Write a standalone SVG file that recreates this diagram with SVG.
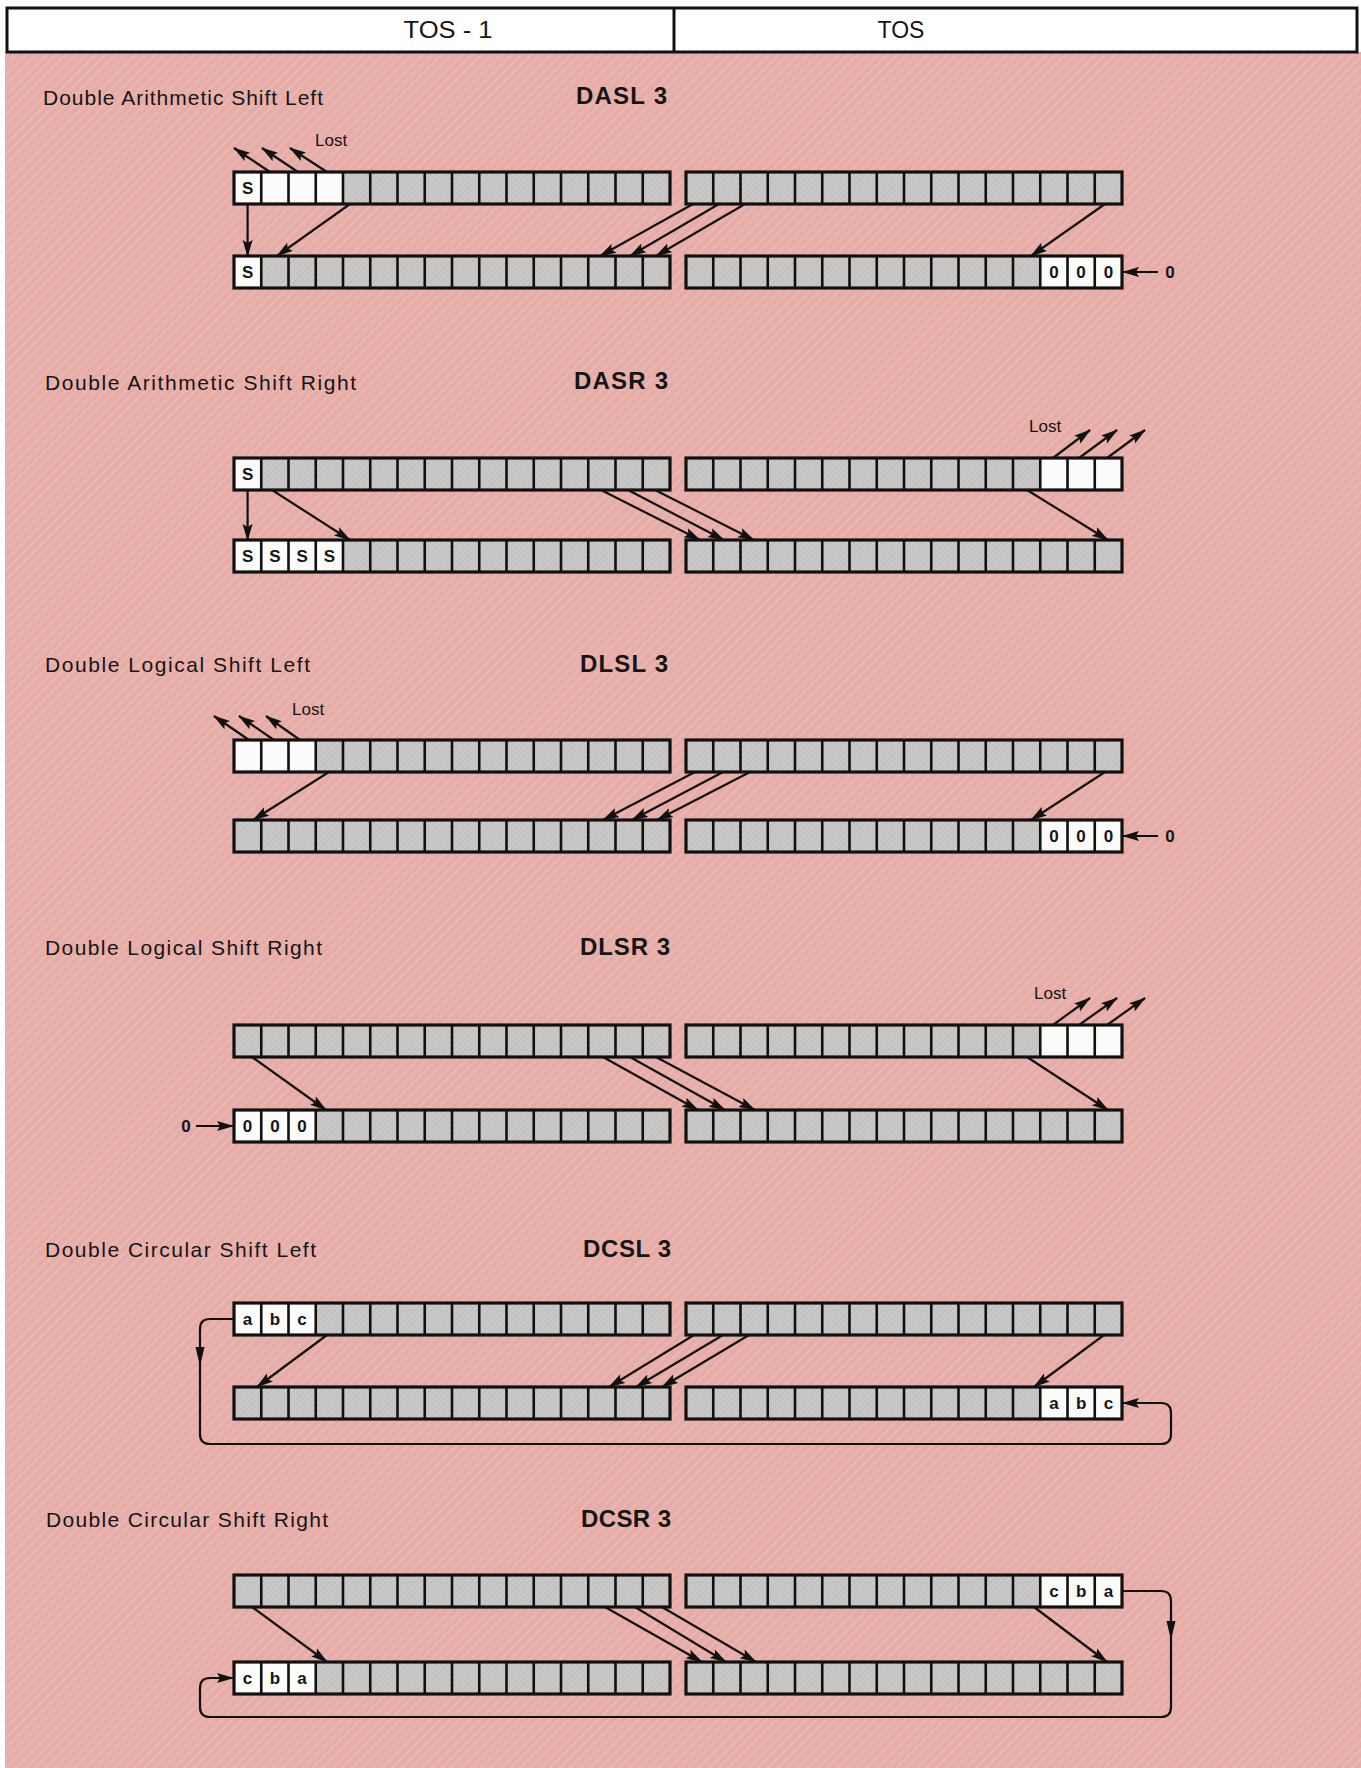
<svg xmlns="http://www.w3.org/2000/svg" xmlns:xlink="http://www.w3.org/1999/xlink" width="1361" height="1768" viewBox="0 0 1361 1768">
<style>
.ttl{font-family:"Liberation Sans",Arial,sans-serif;font-size:21px;fill:#151515}
.op{font-family:"Liberation Sans",Arial,sans-serif;font-size:24px;font-weight:bold;fill:#151515}
.hd{font-family:"Liberation Sans",Arial,sans-serif;font-size:23px;fill:#151515;text-anchor:middle}
.lost{font-family:"Liberation Sans",Arial,sans-serif;font-size:17px;fill:#151515}
.ct{font-family:"Liberation Sans",Arial,sans-serif;font-size:17px;font-weight:bold;fill:#151515;text-anchor:middle}
.zl{font-family:"Liberation Sans",Arial,sans-serif;font-size:17px;font-weight:bold;fill:#151515;text-anchor:middle}
.w{fill:#fbfbfa}
.ar{fill:none;stroke:#111;stroke-width:2.2;marker-end:url(#ah)}
</style>
<defs>
<pattern id="bgp" width="7" height="7" patternUnits="userSpaceOnUse" patternTransform="rotate(45)">
<rect width="7" height="7" fill="#e6aca7"/>
<rect width="2.5" height="7" fill="#eab4af"/>
</pattern>
<pattern id="grp" width="4" height="4" patternUnits="userSpaceOnUse" patternTransform="rotate(45)">
<rect width="4" height="4" fill="#cbc9c8"/>
<rect width="1.5" height="4" fill="#c2c0bf"/>
</pattern>
<marker id="ah" viewBox="0 0 17 11" refX="16" refY="5.5" markerWidth="17" markerHeight="11" markerUnits="userSpaceOnUse" orient="auto">
<path d="M0,0.5 L17,5.5 L0,10.5 L3,5.5 z" fill="#111"/>
</marker>
<rect id="rb" width="436" height="32" fill="url(#grp)"/>
<g id="rt">
<path d="M27.25 0V32M54.5 0V32M81.75 0V32M109 0V32M136.25 0V32M163.5 0V32M190.75 0V32M218 0V32M245.25 0V32M272.5 0V32M299.75 0V32M327 0V32M354.25 0V32M381.5 0V32M408.75 0V32" stroke="#111" stroke-width="2.6" fill="none"/>
<rect width="436" height="32" fill="none" stroke="#111" stroke-width="3.2"/>
</g>
</defs>

<rect x="0" y="0" width="1361" height="1768" fill="#ffffff"/>
<rect x="5" y="52" width="1356" height="1716" fill="url(#bgp)"/>

<g id="header">
<rect x="7" y="8" width="1350" height="44" fill="#ffffff" stroke="#111" stroke-width="3"/>
<line x1="674" y1="8" x2="674" y2="52" stroke="#111" stroke-width="3"/>
<text class="hd" x="448" y="38" textLength="89" lengthAdjust="spacingAndGlyphs">TOS - 1</text>
<text class="hd" x="901" y="38">TOS</text>
</g>

<!-- DASL -->
<g id="dasl-title">
<text class="ttl" x="43" y="105" textLength="280" lengthAdjust="spacing">Double Arithmetic Shift Left</text>
<text class="op" x="576" y="104" textLength="91" lengthAdjust="spacing">DASL 3</text>
<text class="lost" x="315" y="146">Lost</text>
</g>
<g id="dasl-tos1-before">
<use href="#rb" x="234" y="172"/>
<rect class="w" x="234" y="172" width="109" height="32"/>
<use href="#rt" x="234" y="172"/>
<text class="ct" x="247.6" y="194">S</text>
</g>
<g id="dasl-tos-before"><use href="#rb" x="686" y="172"/><use href="#rt" x="686" y="172"/></g>
<g id="dasl-tos1-after">
<use href="#rb" x="234" y="256"/>
<rect class="w" x="234" y="256" width="27.25" height="32"/>
<use href="#rt" x="234" y="256"/>
<text class="ct" x="247.6" y="278">S</text>
</g>
<g id="dasl-tos-after">
<use href="#rb" x="686" y="256"/>
<rect class="w" x="1040.25" y="256" width="81.75" height="32"/>
<use href="#rt" x="686" y="256"/>
<text class="ct" x="1053.9" y="278">0</text><text class="ct" x="1081.1" y="278">0</text><text class="ct" x="1108.4" y="278">0</text>
<text class="zl" x="1170" y="278">0</text>
</g>

<!-- DASR -->
<g id="dasr-title">
<text class="ttl" x="45" y="390" textLength="311" lengthAdjust="spacing">Double Arithmetic Shift Right</text>
<text class="op" x="574" y="389" textLength="94" lengthAdjust="spacing">DASR 3</text>
<text class="lost" x="1029" y="432">Lost</text>
</g>
<g id="dasr-tos1-before">
<use href="#rb" x="234" y="458"/>
<rect class="w" x="234" y="458" width="27.25" height="32"/>
<use href="#rt" x="234" y="458"/>
<text class="ct" x="247.6" y="480">S</text>
</g>
<g id="dasr-tos-before">
<use href="#rb" x="686" y="458"/>
<rect class="w" x="1040.25" y="458" width="81.75" height="32"/>
<use href="#rt" x="686" y="458"/>
</g>
<g id="dasr-tos1-after">
<use href="#rb" x="234" y="540"/>
<rect class="w" x="234" y="540" width="109" height="32"/>
<use href="#rt" x="234" y="540"/>
<text class="ct" x="247.6" y="562">S</text><text class="ct" x="274.9" y="562">S</text><text class="ct" x="302.1" y="562">S</text><text class="ct" x="329.4" y="562">S</text>
</g>
<g id="dasr-tos-after"><use href="#rb" x="686" y="540"/><use href="#rt" x="686" y="540"/></g>

<!-- DLSL -->
<g id="dlsl-title">
<text class="ttl" x="45" y="672" textLength="265" lengthAdjust="spacing">Double Logical Shift Left</text>
<text class="op" x="580" y="672" textLength="88" lengthAdjust="spacing">DLSL 3</text>
<text class="lost" x="292" y="715">Lost</text>
</g>
<g id="dlsl-tos1-before">
<use href="#rb" x="234" y="740"/>
<rect class="w" x="234" y="740" width="81.75" height="32"/>
<use href="#rt" x="234" y="740"/>
</g>
<g id="dlsl-tos-before"><use href="#rb" x="686" y="740"/><use href="#rt" x="686" y="740"/></g>
<g id="dlsl-tos1-after"><use href="#rb" x="234" y="820"/><use href="#rt" x="234" y="820"/></g>
<g id="dlsl-tos-after">
<use href="#rb" x="686" y="820"/>
<rect class="w" x="1040.25" y="820" width="81.75" height="32"/>
<use href="#rt" x="686" y="820"/>
<text class="ct" x="1053.9" y="842">0</text><text class="ct" x="1081.1" y="842">0</text><text class="ct" x="1108.4" y="842">0</text>
<text class="zl" x="1170" y="842">0</text>
</g>

<!-- DLSR -->
<g id="dlsr-title">
<text class="ttl" x="45" y="955" textLength="277" lengthAdjust="spacing">Double Logical Shift Right</text>
<text class="op" x="580" y="955" textLength="90" lengthAdjust="spacing">DLSR 3</text>
<text class="lost" x="1034" y="999">Lost</text>
</g>
<g id="dlsr-tos1-before"><use href="#rb" x="234" y="1025"/><use href="#rt" x="234" y="1025"/></g>
<g id="dlsr-tos-before">
<use href="#rb" x="686" y="1025"/>
<rect class="w" x="1040.25" y="1025" width="81.75" height="32"/>
<use href="#rt" x="686" y="1025"/>
</g>
<g id="dlsr-tos1-after">
<use href="#rb" x="234" y="1110"/>
<rect class="w" x="234" y="1110" width="81.75" height="32"/>
<use href="#rt" x="234" y="1110"/>
<text class="ct" x="247.6" y="1132">0</text><text class="ct" x="274.9" y="1132">0</text><text class="ct" x="302.1" y="1132">0</text>
<text class="zl" x="186" y="1132">0</text>
</g>
<g id="dlsr-tos-after"><use href="#rb" x="686" y="1110"/><use href="#rt" x="686" y="1110"/></g>

<!-- DCSL -->
<g id="dcsl-title">
<text class="ttl" x="45" y="1257" textLength="271" lengthAdjust="spacing">Double Circular Shift Left</text>
<text class="op" x="583" y="1257" textLength="88" lengthAdjust="spacing">DCSL 3</text>
</g>
<g id="dcsl-tos1-before">
<use href="#rb" x="234" y="1303"/>
<rect class="w" x="234" y="1303" width="81.75" height="32"/>
<use href="#rt" x="234" y="1303"/>
<text class="ct" x="247.6" y="1325">a</text><text class="ct" x="274.9" y="1325">b</text><text class="ct" x="302.1" y="1325">c</text>
</g>
<g id="dcsl-tos-before"><use href="#rb" x="686" y="1303"/><use href="#rt" x="686" y="1303"/></g>
<g id="dcsl-tos1-after"><use href="#rb" x="234" y="1387"/><use href="#rt" x="234" y="1387"/></g>
<g id="dcsl-tos-after">
<use href="#rb" x="686" y="1387"/>
<rect class="w" x="1040.25" y="1387" width="81.75" height="32"/>
<use href="#rt" x="686" y="1387"/>
<text class="ct" x="1053.9" y="1409">a</text><text class="ct" x="1081.1" y="1409">b</text><text class="ct" x="1108.4" y="1409">c</text>
</g>

<!-- DCSR -->
<g id="dcsr-title">
<text class="ttl" x="46" y="1527" textLength="282" lengthAdjust="spacing">Double Circular Shift Right</text>
<text class="op" x="581" y="1527" textLength="90" lengthAdjust="spacing">DCSR 3</text>
</g>
<g id="dcsr-tos1-before"><use href="#rb" x="234" y="1575"/><use href="#rt" x="234" y="1575"/></g>
<g id="dcsr-tos-before">
<use href="#rb" x="686" y="1575"/>
<rect class="w" x="1040.25" y="1575" width="81.75" height="32"/>
<use href="#rt" x="686" y="1575"/>
<text class="ct" x="1053.9" y="1597">c</text><text class="ct" x="1081.1" y="1597">b</text><text class="ct" x="1108.4" y="1597">a</text>
</g>
<g id="dcsr-tos1-after">
<use href="#rb" x="234" y="1662"/>
<rect class="w" x="234" y="1662" width="81.75" height="32"/>
<use href="#rt" x="234" y="1662"/>
<text class="ct" x="247.6" y="1684">c</text><text class="ct" x="274.9" y="1684">b</text><text class="ct" x="302.1" y="1684">a</text>
</g>
<g id="dcsr-tos-after"><use href="#rb" x="686" y="1662"/><use href="#rt" x="686" y="1662"/></g>

<g id="connectors">
<!-- DASL -->
<path class="ar" d="M270 172L234 148"/>
<path class="ar" d="M298 172L262 148"/>
<path class="ar" d="M327 172L290 148"/>
<path class="ar" d="M247.6 204V256"/>
<path class="ar" d="M350 204L277 256"/>
<path class="ar" d="M693 204L600 256"/>
<path class="ar" d="M719 204L630 256"/>
<path class="ar" d="M745 204L656 256"/>
<path class="ar" d="M1105 204L1031 256"/>
<path class="ar" d="M1158 272H1123"/>
<!-- DASR -->
<path class="ar" d="M247.6 490V540"/>
<path class="ar" d="M272 490L350 540"/>
<path class="ar" d="M601 490L700 540"/>
<path class="ar" d="M628 490L724 540"/>
<path class="ar" d="M655 490L754 540"/>
<path class="ar" d="M1027 490L1108 540"/>
<path class="ar" d="M1053 458L1090 430"/>
<path class="ar" d="M1079 458L1117 430"/>
<path class="ar" d="M1107 458L1145 430"/>
<!-- DLSL -->
<path class="ar" d="M249 740L214 716"/>
<path class="ar" d="M274 740L239 716"/>
<path class="ar" d="M300 740L266 716"/>
<path class="ar" d="M329 772L253 820"/>
<path class="ar" d="M695 772L603 820"/>
<path class="ar" d="M723 772L632 820"/>
<path class="ar" d="M750 772L657 820"/>
<path class="ar" d="M1105 772L1031 820"/>
<path class="ar" d="M1158 836H1123"/>
<!-- DLSR -->
<path class="ar" d="M252 1057L326 1110"/>
<path class="ar" d="M603 1057L698 1110"/>
<path class="ar" d="M630 1057L725 1110"/>
<path class="ar" d="M656 1057L755 1110"/>
<path class="ar" d="M1027 1057L1108 1110"/>
<path class="ar" d="M1053 1025L1090 998"/>
<path class="ar" d="M1079 1025L1117 998"/>
<path class="ar" d="M1107 1025L1145 998"/>
<path class="ar" d="M196 1126H233"/>
<!-- DCSL -->
<path class="ar" d="M327 1335L257 1387"/>
<path class="ar" d="M694 1335L609 1387"/>
<path class="ar" d="M723 1335L636 1387"/>
<path class="ar" d="M749 1335L662 1387"/>
<path class="ar" d="M1104 1335L1034 1387"/>
<path class="ar" d="M234 1319H210Q200 1319 200 1329V1434Q200 1444 210 1444H1161Q1171 1444 1171 1434V1413Q1171 1403 1161 1403H1123"/>
<polygon points="195.5,1347 204.5,1347 200,1366" fill="#111"/>
<!-- DCSR -->
<path class="ar" d="M252 1607L327 1662"/>
<path class="ar" d="M605 1607L702 1662"/>
<path class="ar" d="M635 1607L726 1662"/>
<path class="ar" d="M662 1607L756 1662"/>
<path class="ar" d="M1034 1607L1107 1662"/>
<path class="ar" d="M1122 1591H1161Q1171 1591 1171 1601V1707Q1171 1717 1161 1717H210Q200 1717 200 1707V1688Q200 1678 210 1678H233"/>
<polygon points="1166.5,1621 1175.5,1621 1171,1640" fill="#111"/>
</g>
</svg>
